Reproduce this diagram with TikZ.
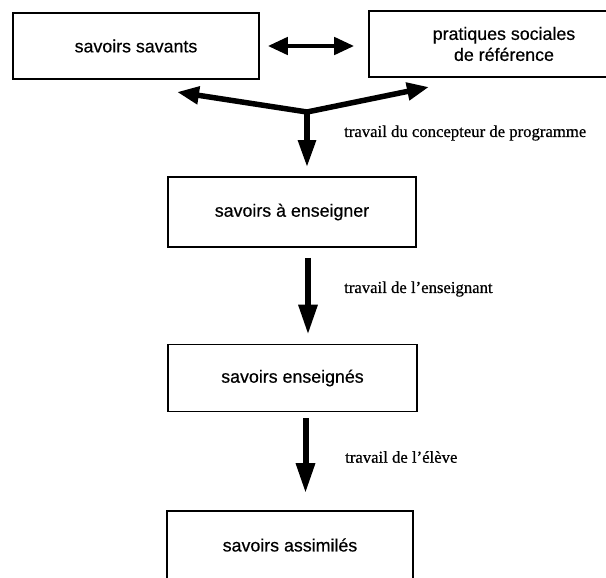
\documentclass[tikz,border=0pt]{standalone}
\usepackage{fontspec}
\setmainfont{Liberation Serif}[FakeBold=0.6]
\newfontfamily\boxfont{Liberation Sans}[FakeBold=0.5]
\usetikzlibrary{arrows.meta,calc}
\begin{document}
\begin{tikzpicture}[x=1pt,y=-1pt,
  savoir/.style={draw,line width=1.6pt,inner sep=0pt,align=center,
    font=\boxfont\fontsize{17.8}{21}\selectfont},
  travail/.style={anchor=west,inner sep=0pt,
    font=\fontsize{16.7}{20}\selectfont},
  bigarrow/.style={line width=6pt,-{Triangle[width=18pt,length=30pt]}},
  forkarrow/.style={line width=5.5pt,-{Triangle[width=17pt,length=22pt]}},
  linkarrow/.style={line width=4.5pt,{Triangle[width=17pt,length=20pt]}-{Triangle[width=17pt,length=20pt]}}]
\useasboundingbox (0,0) rectangle (606,578);
\clip (0,0) rectangle (606,578);

% the five kinds of knowledge
\node[savoir,minimum width=246pt,minimum height=66pt] (savants) at (136,46) {savoirs savants};
\node[savoir,minimum width=270pt,minimum height=66pt] (pratiques) at (504,44) {pratiques sociales\\de référence};
\node[savoir,minimum width=248pt,minimum height=70pt] (aenseigner) at (292,212) {savoirs à enseigner};
\node[savoir,minimum width=249pt,minimum height=67pt] (enseignes) at (292.5,378) {savoirs enseignés};
\node[savoir,minimum width=246pt,minimum height=68pt] (assimiles) at (290,545) {savoirs assimilés};

% exchange between scholarly knowledge and social practices
\draw[linkarrow,shorten <=8pt,shorten >=14pt] (savants.east) -- (savants.east -| pratiques.west);

% fork gathering both sources into the curriculum
\coordinate (fork) at (307,112);
\coordinate (forkL) at (177,92);
\coordinate (forkR) at (429,87);
\draw[forkarrow] (fork) -- (forkL);
\draw[forkarrow] (fork) -- (forkR);
\draw[forkarrow,shorten >=9pt,-{Triangle[width=17pt,length=27pt]}] (fork) -- (fork |- aenseigner.north);
\node[travail] (lblconcepteur) at (344,133) {travail du concepteur de programme};

% teacher's work
\draw[bigarrow,shorten <=10pt,shorten >=9pt] ([xshift=16pt]aenseigner.south) -- ([xshift=16pt]aenseigner.south |- enseignes.north);
\node[travail] (lblenseignant) at (344,289) {travail de l’enseignant};

% pupil's work
\draw[bigarrow,shorten <=6pt,shorten >=17pt] ([xshift=13pt]enseignes.south) -- ([xshift=13pt]enseignes.south |- assimiles.north);
\node[travail] (lbleleve) at (345,457) {travail de l’élève};
\end{tikzpicture}
\end{document}
